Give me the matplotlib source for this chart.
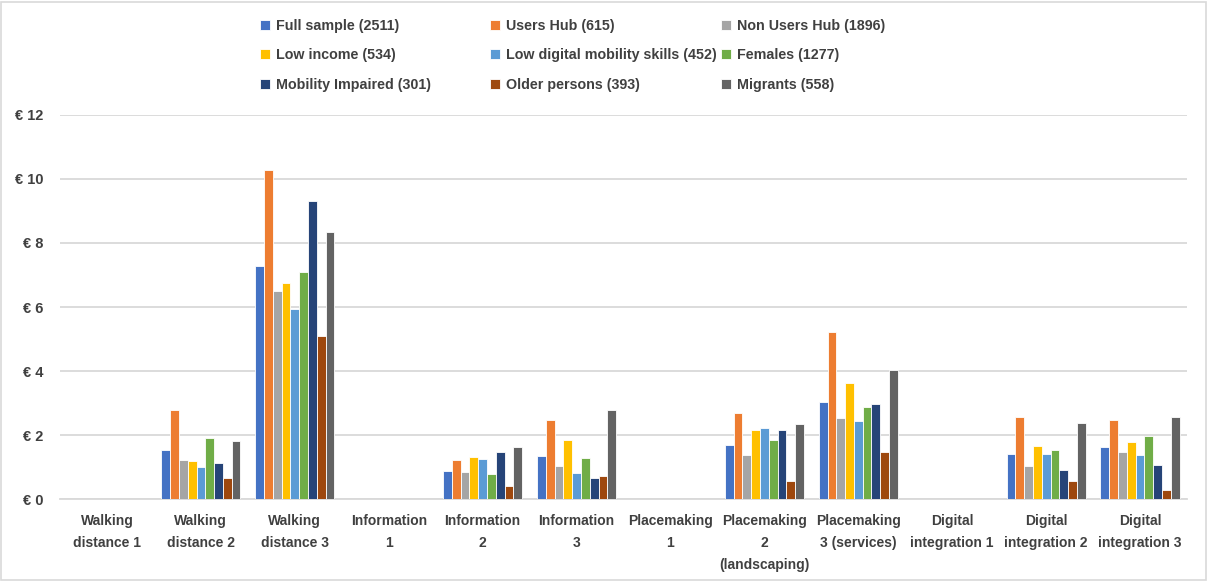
import numpy as np
import matplotlib.pyplot as plt
from matplotlib.patches import Rectangle

plt.rcParams['font.family'] = ['Liberation Sans', 'DejaVu Sans']

categories = ['Walking\ndistance 1', 'Walking\ndistance 2', 'Walking\ndistance 3',
              'Information\n1', 'Information\n2', 'Information\n3',
              'Placemaking\n1', 'Placemaking\n2\n(landscaping)', 'Placemaking\n3 (services)',
              'Digital\nintegration 1', 'Digital\nintegration 2', 'Digital\nintegration 3']

groups = ['Full sample (2511)', 'Users Hub (615)', 'Non Users Hub (1896)',
          'Low income (534)', 'Low digital mobility skills (452)', 'Females (1277)',
          'Mobility Impaired (301)', 'Older persons (393)', 'Migrants (558)']

colors = ['#4472C4', '#ED7D31', '#A5A5A5', '#FFC000', '#5B9BD5',
          '#70AD47', '#264478', '#9E480E', '#636363']

# willingness to pay per improvement (EUR), one list per group
full_sample = [0, 1.52, 7.28, 0, 0.86, 1.33, 0, 1.68, 3.04, 0, 1.41, 1.62]
users_hub = [0, 2.77, 10.28, 0, 1.22, 2.48, 0, 2.70, 5.23, 0, 2.57, 2.46]
non_users_hub = [0, 1.22, 6.49, 0, 0.83, 1.04, 0, 1.39, 2.53, 0, 1.04, 1.46]
low_income = [0, 1.20, 6.74, 0, 1.31, 1.83, 0, 2.15, 3.64, 0, 1.66, 1.78]
low_digital = [0, 1.00, 5.95, 0, 1.26, 0.81, 0, 2.23, 2.43, 0, 1.41, 1.37]
females = [0, 1.90, 7.08, 0, 0.79, 1.29, 0, 1.83, 2.87, 0, 1.53, 1.96]
mobility_impaired = [0, 1.12, 9.30, 0, 1.47, 0.67, 0, 2.15, 2.97, 0, 0.90, 1.06]
older_persons = [0, 0.66, 5.09, 0, 0.42, 0.71, 0, 0.57, 1.46, 0, 0.56, 0.27]
migrants = [0, 1.80, 8.34, 0, 1.61, 2.78, 0, 2.33, 4.02, 0, 2.37, 2.57]

series = [full_sample, users_hub, non_users_hub, low_income, low_digital,
          females, mobility_impaired, older_persons, migrants]

text_col = '#404040'

fig = plt.figure(figsize=(12.08, 5.81), dpi=100)
ax = fig.add_axes([0.0497, 0.1411, 0.9329, 0.661])

x = np.arange(len(categories))
step = 0.0936
for i, (vals, col, lab) in enumerate(zip(series, colors, groups)):
    ax.bar(x + (i - 4) * step, vals, width=step, color=col, edgecolor='white',
           linewidth=0.6, label=lab, zorder=3)

ax.set_xlim(-0.5, len(categories) - 0.5)
ax.set_ylim(0, 12)
ax.set_yticks(np.arange(0, 13, 2))
ax.set_yticklabels([f'€ {v}' for v in range(0, 13, 2)], fontsize=10.5,
                   color=text_col, fontweight='bold')
ax.set_xticks(x)
ax.set_xticklabels(categories, fontsize=10, color=text_col, fontweight='bold',
                   linespacing=1.7, va='top')
ax.tick_params(length=0, pad=12)
ax.tick_params(axis='x', pad=11)
ax.grid(axis='y', color='#d9d9d9', linewidth=1.3, zorder=0)
for s in ['top', 'right', 'left']:
    ax.spines[s].set_visible(False)
ax.spines['bottom'].set_color('#d9d9d9')
ax.spines['bottom'].set_linewidth(1.3)

# three one-column legends so each column sits at its own x
handles, labels = ax.get_legend_handles_labels()
col_x = [247, 477, 708]
for c, px in enumerate(col_x):
    idx = [c, c + 3, c + 6]
    leg = fig.legend([handles[k] for k in idx], [labels[k] for k in idx],
                     loc='upper left', bbox_to_anchor=(px / 1208, 1 - 6 / 581),
                     frameon=False, fontsize=10.3, handlelength=0.7,
                     handleheight=0.7, handletextpad=0.4, labelspacing=1.08)
    for t in leg.get_texts():
        t.set_color(text_col)
        t.set_fontweight('bold')

fig.patches.append(Rectangle((0.001, 0.002), 0.997, 0.995, transform=fig.transFigure,
                             fill=False, edgecolor='#d9d9d9', linewidth=1.2))

fig.savefig('out.png', dpi=100)
